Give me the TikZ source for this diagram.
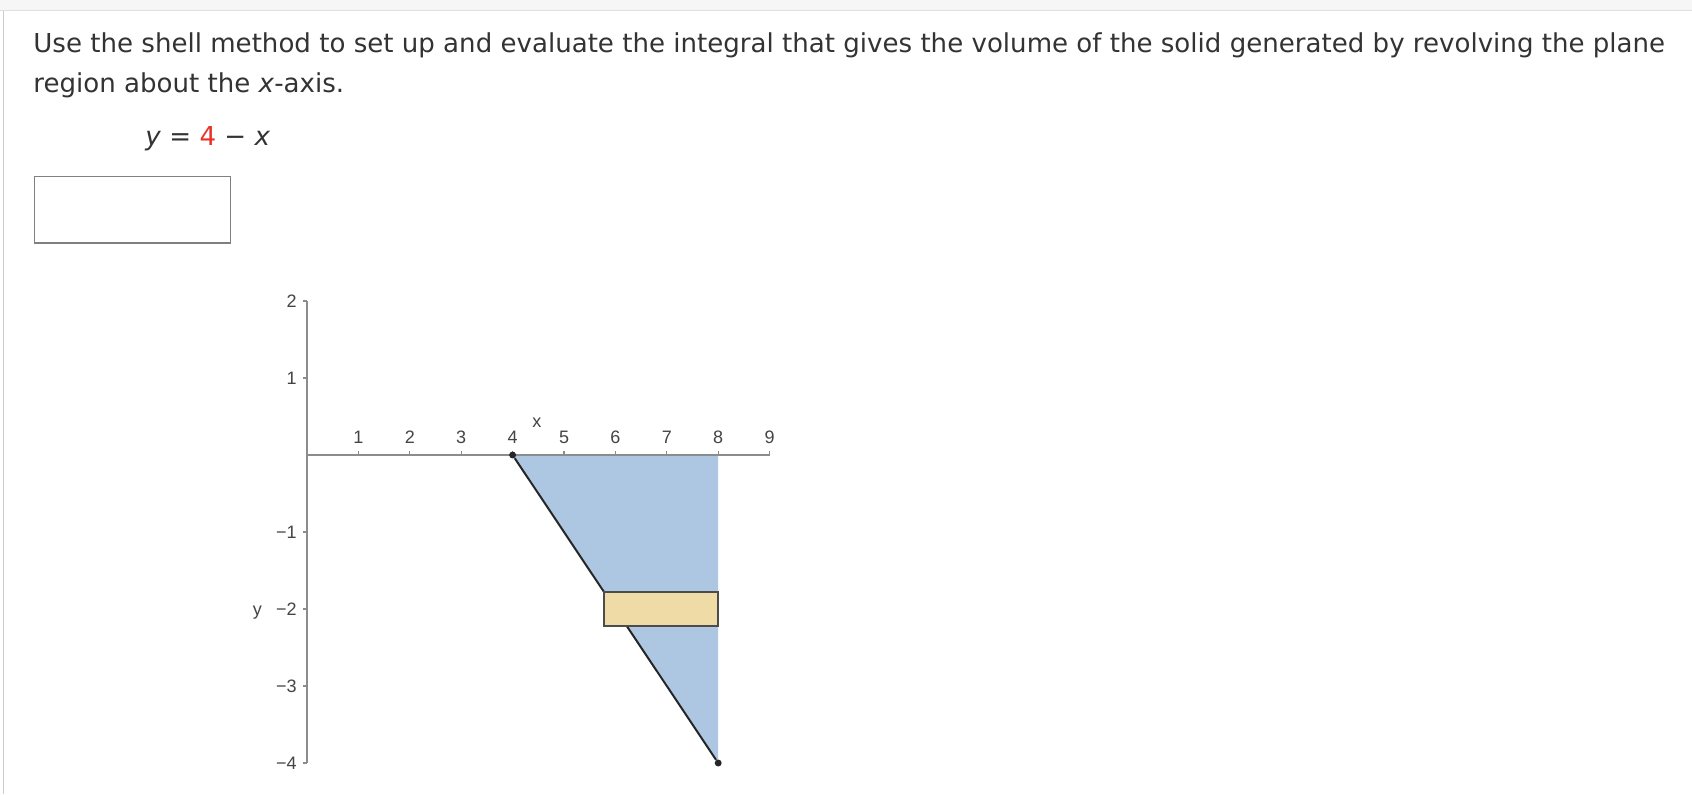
\documentclass[tikz,border=0pt]{standalone}
\usepackage{fontspec}
\setmainfont{DejaVu Sans}
\newfontfamily\plotfont{Liberation Sans}
\usetikzlibrary{positioning}

\definecolor{txtgray}{HTML}{333333}
\definecolor{axisgray}{HTML}{8C8C8C}
\definecolor{labelgray}{HTML}{444444}
\definecolor{regionblue}{HTML}{ADC7E3}
\definecolor{shellfill}{HTML}{EFDBA6}
\definecolor{eqred}{HTML}{E8322A}
\definecolor{barfill}{HTML}{F6F6F6}
\definecolor{barline}{HTML}{DEDEDE}
\definecolor{boxgray}{HTML}{808080}

\begin{document}
\begin{tikzpicture}[x=0.75pt, y=-0.75pt, semithick,
                    prompt/.style={anchor=base west, inner sep=0pt, text=txtgray, font=\fontsize{19.55}{24}\selectfont},
                    answer/.style={draw=boxgray, line width=1.1pt, anchor=north west, inner sep=0pt,
                                   minimum width=147pt, minimum height=50pt},
                    dot/.style={circle, inner sep=0pt, minimum size=5.2pt, fill=black!85, name=#1},
                    tick label/.style={text=labelgray, inner sep=1pt, font=\plotfont\fontsize{13.5}{14}\selectfont},
                    axis line/.style={draw=axisgray, line width=1.1pt},
                    shell/.style={fill=shellfill, draw=black!70, line width=1.1pt}]

  \useasboundingbox (0,0) rectangle (1692,794);
  \fill[white] (0,0) rectangle (1692,794);

  % page frame
  \fill[barfill] (0,0) rectangle (1692,10);
  \draw[barline, line width=1.1pt] (0,10.5) -- (1692,10.5);
  \draw[black!20, line width=1pt] (3.5,11) -- (3.5,794);

  \node[prompt] (line1) at (33,52) {Use the shell method to set up and evaluate the integral that gives the volume of the solid generated by revolving the plane};
  \node[prompt] (line2) at (33,92) {region about the \textit{x}-axis.};
  \node[prompt] (eqn)   at (145,145) {\textit{y} = {\color{eqred}4} − \textit{x}};
  \node[answer] (ansbox) at (33.5,175.5) {};

  \begin{scope}[shift={(307,455)}, x=38.55pt, y=57.75pt]
    % region under the line
    \fill[regionblue] (4,0) -- (8,0) -- (8,-4) -- cycle;

    \draw[axis line] (0,2) -- (0,-4);
    \draw[axis line] (0,0) -- (9,0);
    \foreach \y/\t [count=\i] in {2/2, 1/1, -1/−1, -2/−2, -3/−3, -4/−4} {
      \draw[axis line, line width=0.8pt] (0,\y) -- ++(-3pt,0);
      \node[tick label, anchor=east] (ytick\i) at ([xshift=-6.5pt]0,\y) {\t};
    }
    \foreach \x in {1,...,9} {
      \draw[axis line, line width=0.8pt] (\x,0) -- ++(0,3pt);
      \node[tick label, anchor=base] (xtick\x) at ([yshift=9pt]\x,0) {\x};
    }
    \node[tick label] (xlabel) at (4.47,0.42) {x};
    \node[tick label, base left=8pt of ytick4] (ylabel) {y};

    \node[dot=top] at (4,0) {};
    \node[dot=bot] at (8,-4) {};
    \draw[black!85, line width=1.5pt] (top) -- (bot);

    % representative rectangle
    \draw[shell] (5.78,-1.78) rectangle (8,-2.22);
  \end{scope}

\end{tikzpicture}
\end{document}
